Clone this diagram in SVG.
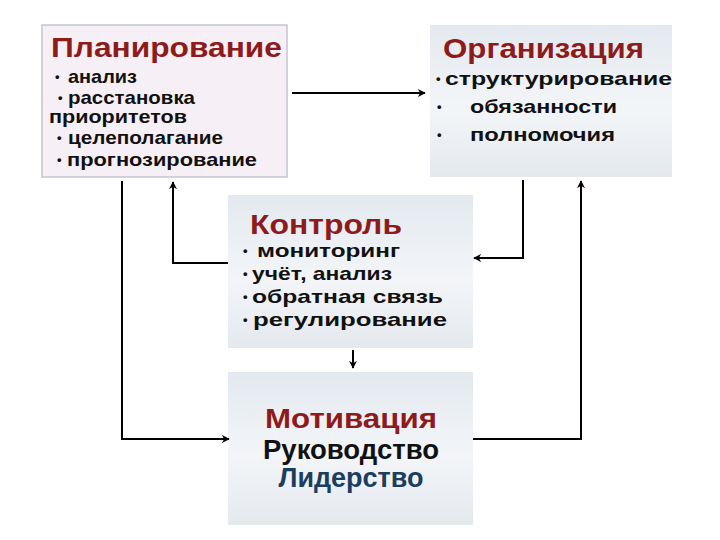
<svg xmlns="http://www.w3.org/2000/svg" width="720" height="540" viewBox="0 0 720 540">
  <defs>
    <linearGradient id="gBlue" x1="0" y1="0" x2="0" y2="1">
      <stop offset="0" stop-color="#e3e9ef"/>
      <stop offset="0.55" stop-color="#f3f5f8"/>
      <stop offset="1" stop-color="#e4e9ee"/>
    </linearGradient>
    <marker id="arr" viewBox="0 0 10 10" refX="9" refY="5" markerWidth="4" markerHeight="4" orient="auto" markerUnits="strokeWidth">
      <path d="M0,0 L10,5 L0,10 L3,5 Z" fill="#000"/>
    </marker>
  </defs>
  <style>
    .title{font-family:"Liberation Sans",Arial,sans-serif;font-weight:bold;font-size:28px;fill:#8e1b1b}
    .item{font-family:"Liberation Sans",Arial,sans-serif;font-weight:bold;font-size:19px;fill:#111}
    .b{font-size:13px}
    .big{font-family:"Liberation Sans",Arial,sans-serif;font-weight:bold;font-size:27px}
    .box{fill:url(#gBlue);stroke:none}
    .conn{fill:none;stroke:#000;stroke-width:2;marker-end:url(#arr)}
  </style>
  <rect width="720" height="540" fill="#ffffff"/>

  <g id="planning">
    <rect x="42" y="25" width="245" height="152" fill="#f6eff5" stroke="#c3c6d2" stroke-width="1.5"/>
    <text class="title" x="51" y="57" textLength="231" lengthAdjust="spacingAndGlyphs">Планирование</text>
    <text class="item" x="55" y="83"><tspan class="b" dy="-2">•</tspan><tspan x="68" dy="2" textLength="69" lengthAdjust="spacingAndGlyphs">анализ</tspan></text>
    <text class="item" x="58" y="104"><tspan class="b" dy="-2">•</tspan><tspan x="68" dy="2" textLength="127" lengthAdjust="spacingAndGlyphs">расстановка</tspan></text>
    <text class="item" x="49" y="123" textLength="138" lengthAdjust="spacingAndGlyphs">приоритетов</text>
    <text class="item" x="57" y="144"><tspan class="b" dy="-2">•</tspan><tspan x="68" dy="2" textLength="155" lengthAdjust="spacingAndGlyphs">целеполагание</tspan></text>
    <text class="item" x="57" y="166"><tspan class="b" dy="-2">•</tspan><tspan x="67" dy="2" textLength="190" lengthAdjust="spacingAndGlyphs">прогнозирование</tspan></text>
  </g>

  <g id="organization">
    <rect class="box" x="430" y="25" width="242" height="152"/>
    <text class="title" x="443" y="58" textLength="201" lengthAdjust="spacingAndGlyphs">Организация</text>
    <text class="item" x="436" y="85"><tspan class="b" dy="-2">•</tspan><tspan x="445" dy="2" textLength="227" lengthAdjust="spacingAndGlyphs">структурирование</tspan></text>
    <text class="item" x="437" y="113"><tspan class="b" dy="-2">•</tspan><tspan x="470" dy="2" textLength="147" lengthAdjust="spacingAndGlyphs">обязанности</tspan></text>
    <text class="item" x="437" y="141"><tspan class="b" dy="-2">•</tspan><tspan x="470" dy="2" textLength="145" lengthAdjust="spacingAndGlyphs">полномочия</tspan></text>
  </g>

  <g id="control">
    <rect class="box" x="228" y="195" width="245" height="153"/>
    <text class="title" x="250" y="234" textLength="152" lengthAdjust="spacingAndGlyphs">Контроль</text>
    <text class="item" x="243" y="257"><tspan class="b" dy="-2">•</tspan><tspan x="257" dy="2" textLength="143" lengthAdjust="spacingAndGlyphs">мониторинг</tspan></text>
    <text class="item" x="243" y="280"><tspan class="b" dy="-2">•</tspan><tspan x="252" dy="2" textLength="140" lengthAdjust="spacingAndGlyphs">учёт, анализ</tspan></text>
    <text class="item" x="243" y="303"><tspan class="b" dy="-2">•</tspan><tspan x="252" dy="2" textLength="191" lengthAdjust="spacingAndGlyphs">обратная связь</tspan></text>
    <text class="item" x="243" y="326"><tspan class="b" dy="-2">•</tspan><tspan x="253" dy="2" textLength="194" lengthAdjust="spacingAndGlyphs">регулирование</tspan></text>
  </g>

  <g id="motivation">
    <rect class="box" x="228" y="372" width="245" height="153"/>
    <text class="big" x="351" y="428" text-anchor="middle" fill="#8e1b1b" textLength="172" lengthAdjust="spacingAndGlyphs">Мотивация</text>
    <text class="big" x="351" y="459" text-anchor="middle" fill="#111" textLength="176" lengthAdjust="spacingAndGlyphs">Руководство</text>
    <text class="big" x="351" y="487" text-anchor="middle" fill="#1b3d5e" textLength="145" lengthAdjust="spacingAndGlyphs">Лидерство</text>
  </g>

  <g id="connectors">
    <path class="conn" d="M292,93 L425,93"/>
    <path class="conn" d="M122,181 L122,439 L229,439"/>
    <path class="conn" d="M228,263 L173,263 L173,182"/>
    <path class="conn" d="M523,180 L523,258 L474,258"/>
    <path class="conn" d="M473,439 L581,439 L581,181"/>
    <path class="conn" d="M353,350 L353,368"/>
  </g>
</svg>
